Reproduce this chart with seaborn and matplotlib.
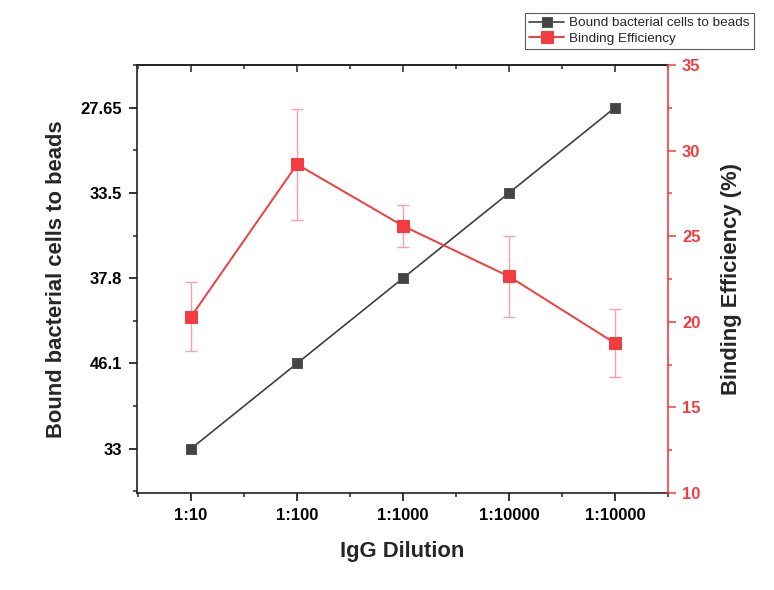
import matplotlib
matplotlib.use("Agg")
import matplotlib.pyplot as plt
import seaborn as sns
import numpy as np
import pandas as pd
from matplotlib.ticker import MultipleLocator, FixedLocator

# ---- data ----
dilutions = ["1:10", "1:100", "1:1000", "1:10000", "1:10000"]
left_tick_labels = ["33", "46.1", "37.8", "33.5", "27.65"]
bound_cells_level = [0, 1, 2, 3, 4]          # position on the (categorical) left axis
binding_eff = [20.3, 29.2, 25.6, 22.65, 18.75]
binding_err = [2.0, 3.25, 1.25, 2.37, 2.0]

sns.set_theme(style="white")
plt.rcParams['font.family'] = ['Liberation Sans', 'DejaVu Sans']

BLACK = "#3f3f3f"
RED = "#f23c3f"
ERR = "#f7a3a5"
TICK_FS = 12
LABEL_FS = 15.8

fig = plt.figure(figsize=(7.74, 5.90), dpi=100)
ax = fig.add_axes([137/774, 1-493/590, (668-137)/774, (493-65)/590])
ax2 = ax.twinx()

x = np.arange(len(dilutions))
df = pd.DataFrame({"x": x, "bound": bound_cells_level, "eff": binding_eff, "err": binding_err})

sns.lineplot(data=df, x="x", y="bound", ax=ax, color=BLACK, marker="s", markersize=7.5,
             markeredgecolor="#555555", markerfacecolor="#444444", linewidth=1.2,
             label="Bound bacterial cells to beads", legend=False)
ax2.errorbar(df["x"], df["eff"], yerr=df["err"], fmt="none", ecolor=ERR, elinewidth=1.0,
             capsize=4, capthick=1.0, zorder=1)
sns.lineplot(data=df, x="x", y="eff", ax=ax2, color=RED, marker="s", markersize=8,
             markeredgecolor=RED, markerfacecolor=RED, linewidth=1.4,
             label="Binding Efficiency", legend=False)

# x axis
ax.set_xlim(-0.51, 4.5)
ax.xaxis.set_major_locator(FixedLocator(x))
ax.xaxis.set_minor_locator(MultipleLocator(0.5))
ax.set_xticks(x)
ax.set_xticklabels(dilutions, fontsize=TICK_FS, fontweight="bold")
ax.set_xlabel("IgG Dilution", fontsize=LABEL_FS, fontweight="bold", labelpad=13)

# left axis
ax.set_ylim(-0.52, 4.5)
ax.set_yticks(bound_cells_level)
ax.set_yticklabels(left_tick_labels, fontsize=TICK_FS, fontweight="bold")
ax.yaxis.set_minor_locator(MultipleLocator(0.5))
ax.set_ylabel("Bound bacterial cells to beads", fontsize=LABEL_FS, fontweight="bold", labelpad=10)

ax.tick_params(axis="both", which="major", direction="out", length=5.5, width=1.1,
               colors="black", left=True, bottom=True, pad=5)
ax.tick_params(axis="both", which="minor", direction="out", length=3, width=1.1,
               left=True, bottom=True)

# top spine ticks (inward)
top = ax.secondary_xaxis("top")
top.set_xticks(x)
top.xaxis.set_minor_locator(MultipleLocator(0.5))
top.tick_params(axis="x", which="major", direction="in", length=5, width=1.1, labeltop=False)
top.tick_params(axis="x", which="minor", direction="in", length=3, width=1.1)
top.spines["top"].set_linewidth(1.2)
top.spines["top"].set_color("#222222")

# right axis
ax2.set_ylim(10, 35)
ax2.yaxis.set_major_locator(MultipleLocator(5))
ax2.yaxis.set_minor_locator(MultipleLocator(2.5))
ax2.tick_params(axis="y", which="major", direction="out", length=6, width=1.1,
                colors=RED, labelsize=TICK_FS, pad=4, right=True)
ax2.tick_params(axis="y", which="minor", direction="out", length=3, width=1.1,
                colors=RED, right=True)
for lab in ax2.get_yticklabels():
    lab.set_fontweight("bold")
ax2.set_ylabel("Binding Efficiency (%)", fontsize=LABEL_FS, fontweight="bold", labelpad=15)

for sp in ["left", "bottom", "top"]:
    ax.spines[sp].set_color("#222222")
    ax.spines[sp].set_linewidth(1.2)
    ax.spines[sp].set_visible(True)
ax.spines["right"].set_visible(False)
for sp in ["left", "bottom", "top"]:
    ax2.spines[sp].set_visible(False)
ax2.spines["right"].set_color(RED)
ax2.spines["right"].set_linewidth(1.2)
ax.grid(False)
ax2.grid(False)

# legend
h1, l1 = ax.get_legend_handles_labels()
h2, l2 = ax2.get_legend_handles_labels()
leg = fig.legend(h1 + h2, l1 + l2, loc="upper right", bbox_to_anchor=(754/774, 1-13/590),
                 bbox_transform=fig.transFigure, fontsize=9.7, frameon=True, fancybox=False,
                 edgecolor="#333333", borderpad=0.3, labelspacing=0.2, handlelength=2.6,
                 handletextpad=0.4, borderaxespad=0)
leg.get_frame().set_linewidth(0.8)

fig.savefig("out.png", dpi=100)
